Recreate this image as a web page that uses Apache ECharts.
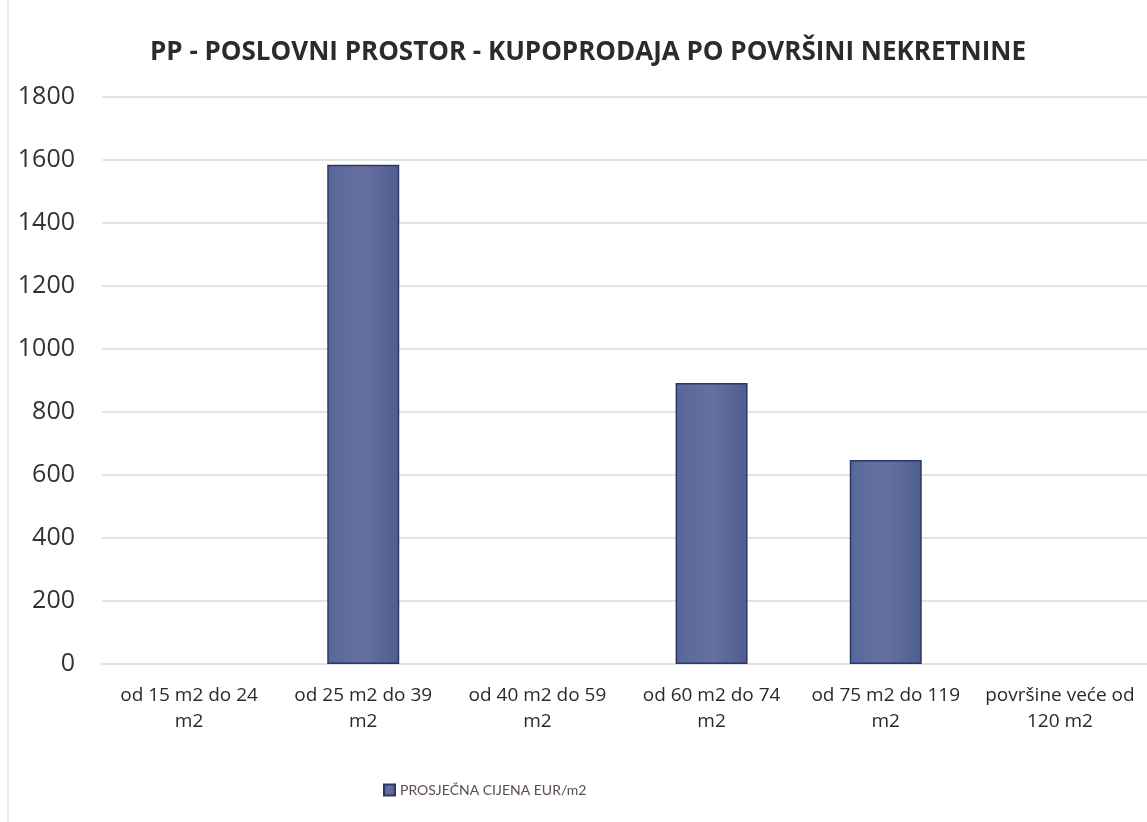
<!DOCTYPE html>
<html>
<head>
<meta charset="utf-8">
<script src="https://cdn.jsdelivr.net/npm/echarts@6/dist/echarts.min.js"></script>
<style>
  html, body { margin: 0; padding: 0; background: #fff; }
  #chart { width: 1147px; height: 822px; }
</style>
</head>
<body>
<div id="chart"></div>
<script>
// kategorije po površini
const categories = [
  'od 15 m2 do 24\nm2',
  'od 25 m2 do 39\nm2',
  'od 40 m2 do 59\nm2',
  'od 60 m2 do 74\nm2',
  'od 75 m2 do 119\nm2',
  'površine veće od\n120 m2'
];
// prosječna cijena EUR/m2 (prazno = nema podatka)
const prices = [null, 1585, null, 892, 648, null];
const seriesName = 'PROSJEČNA CIJENA EUR/m2';

const chart = echarts.init(document.getElementById('chart'));

const option = {
  backgroundColor: '#fff',
  title: {
    text: 'PP - POSLOVNI PROSTOR - KUPOPRODAJA PO POVRŠINI NEKRETNINE',
    left: 583,
    textAlign: 'center',
    top: 35,
    textStyle: {
      fontFamily: 'Open Sans',
      fontSize: 26,
      fontWeight: 'bold',
      color: '#2b2b2b'
    }
  },
  legend: {
    top: 778,
    left: 378,
    itemWidth: 11,
    itemHeight: 11,
    itemGap: 3,
    icon: 'rect',
    textStyle: {
      fontFamily: 'Lato',
      fontSize: 14,
      color: '#5b4b58'
    },
    data: [seriesName]
  },
  grid: {
    left: 102,
    right: -8,
    top: 97,
    bottom: 822 - 664
  },
  xAxis: {
    type: 'category',
    data: categories,
    axisLine: { show: true, lineStyle: { color: '#e2e2e2', width: 2 } },
    axisTick: { show: false },
    axisLabel: {
      interval: 0,
      margin: 19,
      fontFamily: 'Open Sans',
      fontSize: 19,
      lineHeight: 26,
      color: '#2a2a2a'
    }
  },
  yAxis: {
    type: 'value',
    min: 0,
    max: 1800,
    interval: 200,
    axisLine: { show: false },
    axisTick: { show: false },
    splitLine: { lineStyle: { color: '#e4e4e4', width: 2 } },
    axisLabel: {
      margin: 27,
      formatter: function (v) { return String(v); },
      fontFamily: 'Open Sans',
      fontSize: 25,
      color: '#333'
    }
  },
  series: [{
    name: seriesName,
    type: 'bar',
    data: prices,
    barWidth: 72,
    itemStyle: {
      color: new echarts.graphic.LinearGradient(0, 0, 1, 0, [
        { offset: 0, color: '#57669a' },
        { offset: 0.5, color: '#6671a0' },
        { offset: 1, color: '#505d90' }
      ]),
      borderColor: '#2d386a',
      borderWidth: 1.5
    }
  }],
  graphic: [{
    type: 'line',
    shape: { x1: 8, y1: 0, x2: 8, y2: 822 },
    style: { stroke: '#e8e8e8', lineWidth: 2 }
  }]
};

chart.setOption(option);
</script>
</body>
</html>
